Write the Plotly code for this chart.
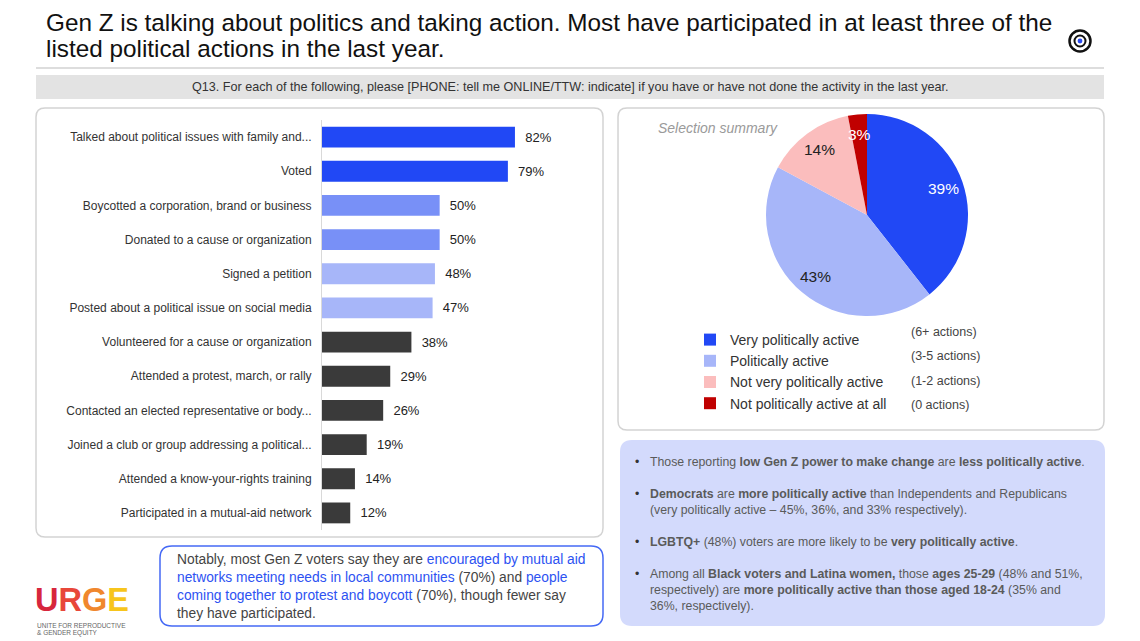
'''
Gen Z political actions: bar chart of activities plus a pie of the activity summary
'''

import math
import plotly.graph_objects as go

# canvas size in pixels
W, H = 1140, 641

# data
actions = ["Talked about political issues with family and...",
           "Voted",
           "Boycotted a corporation, brand or business",
           "Donated to a cause or organization",
           "Signed a petition",
           "Posted about a political issue on social media",
           "Volunteered for a cause or organization",
           "Attended a protest, march, or rally",
           "Contacted an elected representative or body...",
           "Joined a club or group addressing a political...",
           "Attended a know-your-rights training",
           "Participated in a mutual-aid network"]
action_pct = [82, 79, 50, 50, 48, 47, 38, 29, 26, 19, 14, 12]

summary_labels = ["Very politically active", "Politically active",
                  "Not very politically active", "Not politically active at all"]
summary_pct = [39, 43, 14, 3]
summary_actions = ["(6+ actions)", "(3-5 actions)", "(1-2 actions)", "(0 actions)"]

# styles
bar_colors = ["#2148f5"] * 2 + ["#7890f7"] * 2 + ["#a7b6f9"] * 2 + ["#3a3a3a"] * 6
pie_colors = ["#2148f5", "#a7b6f9", "#fbbdbd", "#c00000"]
pie_text_colors = ["white", "#222222", "#222222", "white"]

# pie placement (pixels)
PIE_CX, PIE_CY, PIE_R = 867, 215, 101


def px(x):
    return x / W


def py(y):
    return 1 - y / H


def rounded_box(x0, y0, x1, y1, r, fill, line_color, line_width):
    '''
    rounded rectangle shape, pixel coords with y going down
    '''
    def p(x, y):
        return f"{px(x):.5f},{py(y):.5f}"
    path = (f"M{p(x0 + r, y0)} L{p(x1 - r, y0)} Q{p(x1, y0)} {p(x1, y0 + r)} "
            f"L{p(x1, y1 - r)} Q{p(x1, y1)} {p(x1 - r, y1)} "
            f"L{p(x0 + r, y1)} Q{p(x0, y1)} {p(x0, y1 - r)} "
            f"L{p(x0, y0 + r)} Q{p(x0, y0)} {p(x0 + r, y0)} Z")
    return dict(type="path", path=path, xref="paper", yref="paper",
                fillcolor=fill, line=dict(color=line_color, width=line_width),
                layer="below")


def circle(cx, cy, r, fill, line_color, line_width):
    return dict(type="circle", xref="paper", yref="paper",
                x0=px(cx - r), x1=px(cx + r), y0=py(cy + r), y1=py(cy - r),
                fillcolor=fill, line=dict(color=line_color, width=line_width))


def note(x, y, text, size, color="#333333", xanchor="left", yanchor="middle",
         family="Liberation Sans"):
    return dict(x=px(x), y=py(y), xref="paper", yref="paper", text=text,
                showarrow=False, xanchor=xanchor, yanchor=yanchor, align="left",
                font=dict(size=size, color=color, family=family))


fig = go.Figure()

# bar chart of actions
fig.add_trace(go.Bar(x=action_pct, y=actions, orientation="h",
                     marker=dict(color=bar_colors, line=dict(width=0)),
                     width=0.61,
                     text=[f"\u00a0\u00a0{v}%" for v in action_pct],
                     textposition="outside", cliponaxis=False,
                     textfont=dict(size=13, color="#222222"),
                     showlegend=False, hoverinfo="skip"))

# pie of the summary
fig.add_trace(go.Pie(labels=summary_labels, values=summary_pct,
                     sort=False, direction="clockwise", rotation=0,
                     marker=dict(colors=pie_colors, line=dict(width=0)),
                     textinfo="none",
                     domain=dict(x=[px(PIE_CX - PIE_R), px(PIE_CX + PIE_R)],
                                 y=[py(PIE_CY + PIE_R), py(PIE_CY - PIE_R)]),
                     hoverinfo="skip"))

fig.update_xaxes(domain=[px(322), px(322 + 235.3)], range=[0, 100], visible=False)
fig.update_yaxes(domain=[py(530), py(120)], autorange="reversed",
                 showline=True, linecolor="#d9d9d9", linewidth=1,
                 showgrid=False, ticks="", ticklabelstandoff=7,
                 tickfont=dict(size=12, color="#333333"))

shapes = [
    # divider under the title
    dict(type="line", xref="paper", yref="paper", x0=px(36), x1=px(1104),
         y0=py(68), y1=py(68), line=dict(color="#dddddd", width=2)),
    # question band
    dict(type="rect", xref="paper", yref="paper", x0=px(36), x1=px(1104),
         y0=py(99), y1=py(75), fillcolor="#e3e3e3", line=dict(width=0), layer="below"),
    rounded_box(36, 108, 603, 537, 9, "white", "#d3d3d3", 1.5),
    rounded_box(618, 108, 1104, 430, 9, "white", "#d3d3d3", 1.5),
    rounded_box(620, 440, 1105, 626, 12, "#d3dafc", "#d3dafc", 0),
    rounded_box(160, 546, 603, 626, 12, "white", "#4569f5", 1.5),
    # target icon
    circle(1080, 41, 10.5, "white", "#111111", 2.5),
    circle(1080, 41, 5.5, "white", "#111111", 2),
    circle(1080, 41, 2.4, "#2b4cf0", "#2b4cf0", 0),
]

blue = "#2d52f2"
annotations = [
    note(44, 22, "Gen Z is talking about politics and taking action. Most have participated in at least three of the",
         24.3, "#111111"),
    note(44, 48, "listed political actions in the last year.", 24.3, "#111111"),
    note(570, 87, "Q13. For each of the following, please [PHONE: tell me ONLINE/TTW: indicate] "
         "if you have or have not done the activity in the last year.", 12.6, "#333333", "center"),
    note(656, 128, "<i>Selection summary</i>", 14, "#9a9a9a"),
    # bullets and text of the findings box
    note(633, 453, "•<br><br>•<br><br><br>•<br><br>•", 12.3, "#333333", yanchor="top"),
    note(648, 453,
         "Those reporting <b>low Gen Z power to make change</b> are <b>less politically active</b>."
         "<br><br><b>Democrats</b> are <b>more politically active</b> than Independents and Republicans"
         "<br>(very politically active – 45%, 36%, and 33% respectively)."
         "<br><br><b>LGBTQ+</b> (48%) voters are more likely to be <b>very politically active</b>."
         "<br><br>Among all <b>Black voters and Latina women,</b> those <b>ages 25-29</b> (48% and 51%,"
         "<br>respectively) are <b>more politically active than those aged 18-24</b> (35% and"
         "<br>36%, respectively).",
         12.3, "#5a5a5a", yanchor="top"),
    # note box
    note(175, 586,
         f"Notably, most Gen Z voters say they are <span style='color:{blue}'>encouraged by mutual aid</span>"
         f"<br><span style='color:{blue}'>networks meeting needs in local communities</span> (70%) and "
         f"<span style='color:{blue}'>people</span>"
         f"<br><span style='color:{blue}'>coming together to protest and boycott</span> (70%), though fewer say"
         "<br>they have participated.",
         13.8, "#444444"),
    # logo
    note(33, 600, "<b><span style='color:#d7263d'>U</span><span style='color:#e8473a'>R</span>"
         "<span style='color:#f0872d'>G</span><span style='color:#f7c51c'>E</span></b>", 32.5),
    note(35, 625, "UNITE FOR REPRODUCTIVE", 6.5, "#666666"),
    note(35, 633, "& GENDER EQUITY", 6.5, "#666666"),
]

# pie percentages, placed at the middle angle of each slice
total = sum(summary_pct)
cum = 0
for v, c in zip(summary_pct, pie_text_colors):
    ang = 2 * math.pi * (cum + v / 2) / total
    lx = PIE_CX + 0.8 * PIE_R * math.sin(ang)
    ly = PIE_CY - 0.8 * PIE_R * math.cos(ang)
    annotations.append(note(lx, ly, f"{v}%", 15.5, c, "center"))
    cum += v

# action counts next to the legend
for i, txt in enumerate(summary_actions):
    annotations.append(note(909, 332 + 24.3 * i, txt, 12.5, "#444444"))

fig.update_layout(width=W, height=H, margin=dict(l=0, r=0, t=0, b=0),
                  paper_bgcolor="white", plot_bgcolor="rgba(0,0,0,0)",
                  font=dict(family="Liberation Sans", color="#333333"),
                  shapes=shapes, annotations=annotations,
                  legend=dict(x=px(690), y=py(324), xanchor="left", yanchor="top",
                              font=dict(size=14, color="#333333"),
                              bgcolor="rgba(0,0,0,0)"))

fig.write_html("out.html", config={"displayModeBar": False},
               post_script="document.body.style.margin='0px';")
